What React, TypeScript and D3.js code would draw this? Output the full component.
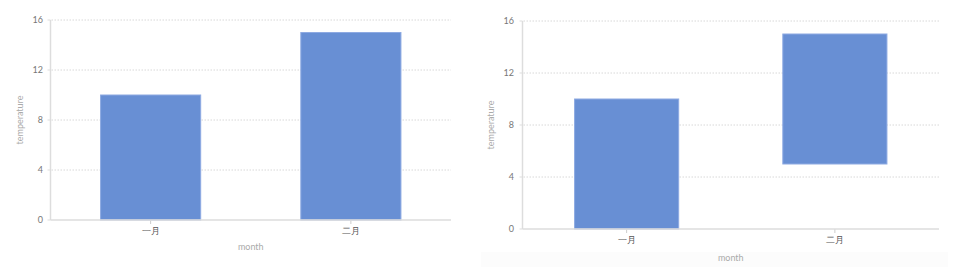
import React from "react";
import * as d3 from "d3";

const months = ["一月", "二月"];
const leftValues = [10, 15];
const rightStarts = [0, 5];
const rightEnds = [10, 15];
const yTicks = [0, 4, 8, 12, 16];

const FONT = "'Lato', 'DejaVu Sans', sans-serif";
const BAR = "#688fd4";
const BAR_STROKE = "#8eaae2";

type PanelProps = {
  x0: number; x1: number; yTop: number; yBot: number;
  starts: number[]; ends: number[];
  yLabelX: number; monthY: number; tickLabelX: number;
};

function Panel({ x0, x1, yTop, yBot, starts, ends, yLabelX, monthY, tickLabelX }: PanelProps) {
  const x = d3.scaleBand<string>().domain(months).range([x0, x1]).padding(0);
  const y = d3.scaleLinear().domain([0, 16]).range([yBot, yTop]);
  const bw = x.bandwidth() * 0.5;
  return (
    <g>
      {yTicks.map((t) => (
        <g key={t}>
          {t > 0 && (
            <line x1={x0 + 1} x2={x1} y1={y(t)} y2={y(t)} stroke="#d8d8d8" strokeWidth={1} strokeDasharray="1.5,1.5" />
          )}
          <text x={tickLabelX} y={y(t)} dy="0.35em" textAnchor="end" fontSize={9} fill="#777" fontFamily={FONT}>{t}</text>
          <line x1={x0 - 3} x2={x0} y1={y(t)} y2={y(t)} stroke="#ddd" />
        </g>
      ))}
      {months.map((m, i) => {
        const cx = (x(m) as number) + x.bandwidth() / 2;
        return (
          <g key={m}>
            <rect x={cx - bw / 2} y={y(ends[i])} width={bw} height={y(starts[i]) - y(ends[i])} fill={BAR} stroke={BAR_STROKE} strokeWidth={1} />
            <line x1={cx} x2={cx} y1={yBot} y2={yBot + 4} stroke="#ccc" />
            <text x={cx} y={yBot + 14} textAnchor="middle" fontSize={9} fill="#555" fontFamily={FONT}>{m}</text>
          </g>
        );
      })}
      <line x1={x0} x2={x0} y1={yTop} y2={yBot} stroke="#ddd" strokeWidth={1.5} />
      <line x1={x0} x2={x1} y1={yBot} y2={yBot} stroke="#ddd" strokeWidth={1.5} />
      <text x={(x0 + x1) / 2} y={monthY} textAnchor="middle" fontSize={9} fill="#aaa" fontFamily={FONT}>month</text>
      <text transform={`translate(${yLabelX},${(yTop + yBot) / 2}) rotate(-90)`} textAnchor="middle" fontSize={9} fill="#aaa" fontFamily={FONT}>temperature</text>
    </g>
  );
}

export default function App() {
  return (
    <svg width={964} height={269} style={{ position: "absolute", left: 0, top: 0, background: "#fff" }}>
      <rect x={481} y={252} width={467} height={15} fill="#fcfcfc" />
      <Panel x0={50.5} x1={451} yTop={20} yBot={220} starts={[0, 0]} ends={leftValues}
        yLabelX={23} monthY={250} tickLabelX={43} />
      <Panel x0={522.5} x1={939} yTop={21} yBot={229} starts={rightStarts} ends={rightEnds}
        yLabelX={494} monthY={261} tickLabelX={514} />
    </svg>
  );
}
